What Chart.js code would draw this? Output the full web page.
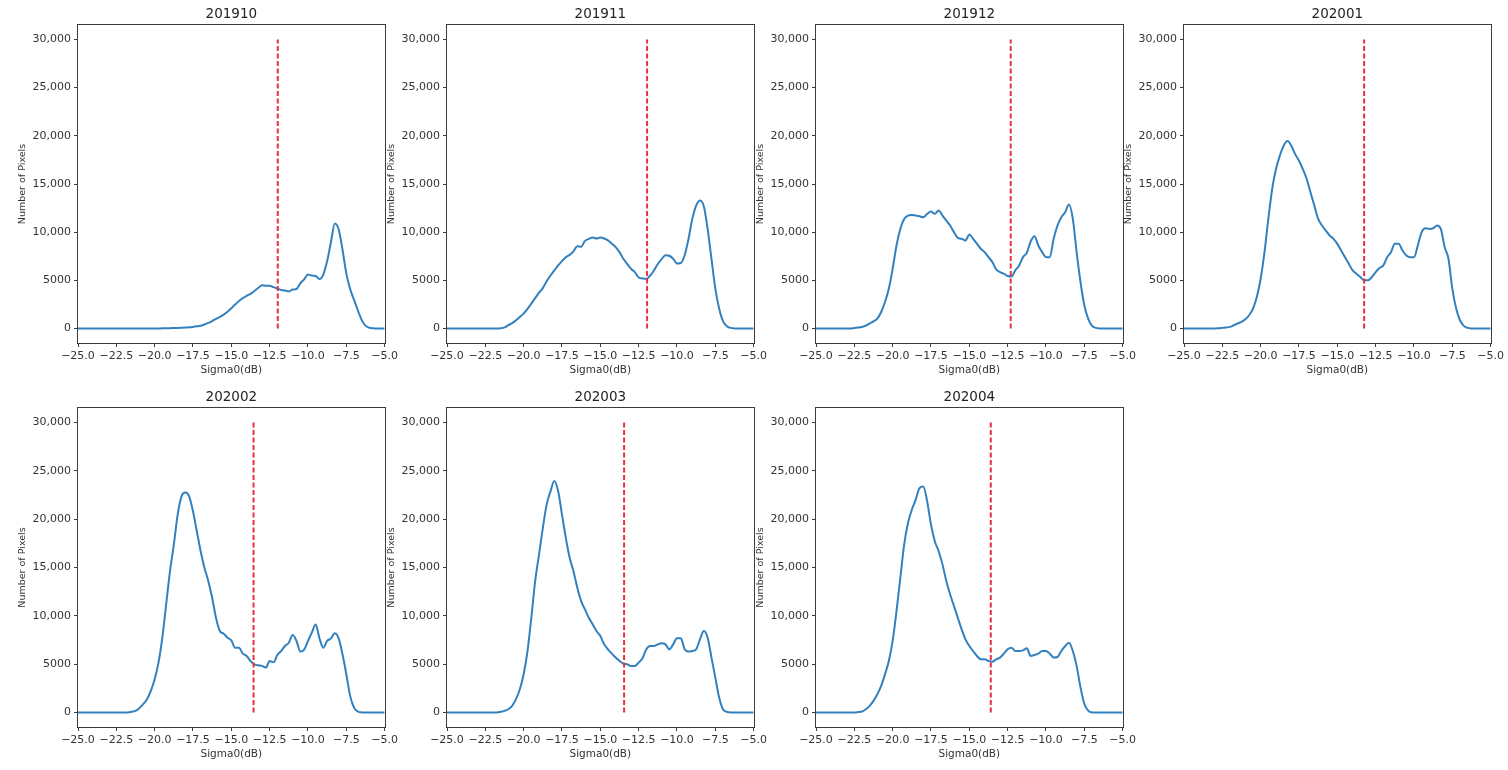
<!DOCTYPE html>
<html><head><meta charset="utf-8">
<script src="https://cdn.jsdelivr.net/npm/chart.js@4.4.1/dist/chart.umd.min.js"></script>
<style>
html,body{margin:0;padding:0;background:#fff;}
body{width:1508px;height:770px;overflow:hidden;position:relative;}
canvas{position:absolute;}
</style></head><body>
<script>
// ---------- DATA ----------
const months = ['201910','201911','201912','202001','202002','202003','202004'];
const sigma = [-25,-24.75,-24.5,-24.25,-24,-23.75,-23.5,-23.25,-23,-22.75,-22.5,-22.25,-22,-21.75,-21.5,-21.25,-21,-20.75,-20.5,-20.25,-20,-19.75,-19.5,-19.25,-19,-18.75,-18.5,-18.25,-18,-17.75,-17.5,-17.25,-17,-16.75,-16.5,-16.25,-16,-15.75,-15.5,-15.25,-15,-14.75,-14.5,-14.25,-14,-13.75,-13.5,-13.25,-13,-12.75,-12.5,-12.25,-12,-11.75,-11.5,-11.25,-11,-10.75,-10.5,-10.25,-10,-9.75,-9.5,-9.25,-9,-8.75,-8.5,-8.25,-8,-7.75,-7.5,-7.25,-7,-6.75,-6.5,-6.25,-6,-5.75,-5.5,-5.25,-5];
const m201910 = [0,0,0,0,0,0,0,0,0,0, 0,0,0,0,0,0,0,0,0,0,
 10,15,20,30,40,50,60,80,100,130,
 170,230,300,420,580,780,1000,1200,1450,1750,
 2100,2500,2850,3150,3400,3600,3900,4200,4500,4450,
 4450,4300,4150,4000,3950,3850,4050,4100,4700,5100,
 5600,5500,5450,5150,5600,7000,9000,10900,10300,8200,
 5700,4100,3000,1900,900,300,80,20,0,0,
 0];
const m201911 = [0,0,0,0,0,0,0,0,0,0,
 0,0,0,0,30,120,345,560,860,1200,
 1550,2050,2590,3150,3720,4200,4900,5500,6030,6550,
 7000,7400,7650,8000,8550,8500,9100,9300,9450,9350,
 9450,9350,9150,8800,8450,7930,7250,6720,6200,5860,
 5300,5200,5150,5500,6030,6700,7200,7600,7550,7250,
 6750,6800,7600,9300,11380,12760,13300,12700,10340,7240,
 4140,2070,760,240,70,10,0,0,0,0,
 0];
const m201912 = [0,0,0,0,0,0,0,0,0,0,
 60,100,170,300,520,750,1030,1720,2760,4140,
 6200,8620,10340,11380,11720,11790,11720,11650,11550,11900,
 12140,11900,12250,11720,11210,10690,10000,9400,9310,9140,
 9760,9310,8790,8280,7930,7410,6900,6140,5860,5690,
 5450,5400,6030,6550,7410,7860,9030,9590,8620,7930,
 7410,7410,9310,10690,11550,12070,12860,11380,7930,4830,
 2410,1030,280,70,10,0,0,0,0,0,
 0];
const m202001 = [0,0,0,0,0,0,0,0,10,30,
 70,110,170,345,520,690,970,1380,2070,3280,
 5170,7930,11380,14480,16550,17930,18970,19450,18970,18100,
 17410,16550,15520,14140,12760,11380,10690,10170,9660,9310,
 8790,8100,7410,6720,6030,5690,5340,5000,5000,5340,
 5860,6280,6550,7410,7930,8790,8790,8100,7590,7410,
 7410,8620,10000,10410,10340,10410,10690,10340,8450,7240,
 4140,2070,860,280,70,10,0,0,0,0,
 0];
const m202002 = [0,0,0,0,0,0,0,0,0,0,
 0,0,0,0,70,170,450,860,1380,2240,
 3440,5160,7740,11180,14620,17370,20470,22360,22750,22360,
 20810,18750,16680,14960,13590,11870,9800,8430,8150,7740,
 7460,6710,6710,6090,5850,5330,4990,4880,4820,4650,
 5330,5200,5950,6360,6880,7220,8020,7400,6300,6500,
 7400,8260,9100,7670,6710,7400,7670,8200,7670,6020,
 3960,1720,520,100,10,0,0,0,0,0,
 0];
const m202003 = [0,0,0,0,0,0,0,0,0,0,
 0,0,0,0,70,170,340,690,1380,2410,
 3960,6360,9800,13590,16340,19090,21500,22880,23950,22880,
 20470,18060,16000,14620,12900,11520,10660,9800,9120,8430,
 7910,7050,6540,6090,5680,5330,5060,4990,4820,4820,
 5160,5610,6540,6880,6880,7050,7160,7050,6540,7050,
 7670,7670,6540,6300,6360,6540,7570,8430,7740,5680,
 3610,1550,340,70,10,0,0,0,0,0,
 0];
const m202004 = [0,0,0,0,0,0,0,0,0,0,
 0,40,100,340,690,1200,1890,2750,3960,5330,
 7400,10490,13930,17370,19610,20980,22020,23220,23390,21840,
 19440,17720,16680,15310,13590,12210,11010,9800,8600,7570,
 6880,6360,5850,5500,5500,5330,5260,5500,5680,6090,
 6540,6710,6360,6360,6430,6640,5850,5950,6090,6360,
 6360,6090,5680,5740,6360,6880,7220,6360,4800,2600,
 900,200,10,0,0,0,0,0,0,0,
 0];
const series = [m201910, m201911, m201912, m202001, m202002, m202003, m202004];
const thresholds = [-11.97, -11.95, -12.3, -13.25, -13.55, -13.45, -13.6];
const vlineRange = [0, 30000];
const yTickValues = [0, 5000, 10000, 15000, 20000, 25000, 30000];
const yTickLabels = ['0', '5000', '10,000', '15,000', '20,000', '25,000', '30,000'];
const xTickValues = [-25, -22.5, -20, -17.5, -15, -12.5, -10, -7.5, -5];
const xRange = [-25, -5];
const yRange = [-1500, 31500];

// ---------- LAYOUT ----------
const FONT = "'DejaVu Sans', sans-serif";
const colLefts = [78, 447, 816, 1184];
const rowTops = [25, 408];
const rowHeights = [318, 319];
const plotW = 307, yAxisW = 78, titleH = 25, xAxisH = 40, padRight = 16;

const frame = {
  id: 'frame',
  afterDraw(chart) {
    const a = chart.chartArea, ctx = chart.ctx;
    ctx.save();
    ctx.strokeStyle = '#3c3c3c';
    ctx.lineWidth = 1;
    ctx.strokeRect(Math.round(a.left) - 0.5, Math.round(a.top) - 0.5,
                   Math.round(a.right - a.left) + 1, Math.round(a.bottom - a.top) + 1);
    ctx.restore();
  }
};

const fmtX = v => (v < 0 ? '\u2212' : '') + Math.abs(v).toFixed(1);

months.forEach((m, i) => {
  const r = Math.floor(i / 4), c = i % 4;
  const cv = document.createElement('canvas');
  const W = yAxisW + plotW + padRight;
  const H = titleH + rowHeights[r] + xAxisH;
  cv.width = W; cv.height = H;
  cv.style.left = (colLefts[c] - yAxisW) + 'px';
  cv.style.top = (rowTops[r] - titleH) + 'px';
  cv.style.width = W + 'px'; cv.style.height = H + 'px';
  document.body.appendChild(cv);

  const vals = series[i];
  const t = thresholds[i];
  new Chart(cv.getContext('2d'), {
    type: 'line',
    data: {
      datasets: [
        {
          data: sigma.map((x, k) => ({x: x, y: vals[k]})),
          borderColor: '#3281be', borderWidth: 2, pointRadius: 0,
          cubicInterpolationMode: 'monotone', fill: false, order: 1
        },
        {
          data: vlineRange.map(y => ({x: t, y: y})),
          borderColor: '#ea3040', borderWidth: 2, borderDash: [5, 2.5],
          pointRadius: 0, tension: 0, fill: false, order: 0
        }
      ]
    },
    options: {
      responsive: false, animation: false, devicePixelRatio: 1,
      layout: {padding: {left: 0, right: padRight, top: 0, bottom: 0}},
      plugins: {
        legend: {display: false}, tooltip: {enabled: false},
        title: {
          display: true, text: m, fullSize: false, color: '#222',
          font: {family: FONT, size: 13.5, weight: 'normal', lineHeight: 1.2},
          padding: {top: 6.5, bottom: 2.3}
        }
      },
      scales: {
        x: {
          type: 'linear', min: xRange[0], max: xRange[1],
          afterBuildTicks: s => { s.ticks = xTickValues.map(v => ({value: v})); },
          afterFit: s => { s.height = xAxisH; },
          ticks: {font: {family: FONT, size: 11}, color: '#333', padding: 3,
                  maxRotation: 0, autoSkip: false, callback: v => fmtX(v)},
          grid: {display: true, drawOnChartArea: false, drawTicks: true, tickLength: 4, color: '#3c3c3c'},
          border: {display: false},
          title: {display: true, text: 'Sigma0(dB)', color: '#333',
                  font: {family: FONT, size: 10.5, lineHeight: 1.2}, padding: {top: 0, bottom: 6.5}}
        },
        y: {
          type: 'linear', min: yRange[0], max: yRange[1],
          afterBuildTicks: s => { s.ticks = yTickValues.map(v => ({value: v})); },
          afterFit: s => { s.width = yAxisW; },
          ticks: {font: {family: FONT, size: 11}, color: '#333', padding: 3, autoSkip: false,
                  callback: v => yTickLabels[yTickValues.indexOf(v)]},
          grid: {display: true, drawOnChartArea: false, drawTicks: true, tickLength: 4, color: '#3c3c3c'},
          border: {display: false},
          title: {display: true, text: 'Number of Pixels', color: '#333',
                  font: {family: FONT, size: 9.5, lineHeight: 1.2}, padding: {top: 17, bottom: 0}}
        }
      }
    },
    plugins: [frame]
  });
});
</script>
</body></html>
